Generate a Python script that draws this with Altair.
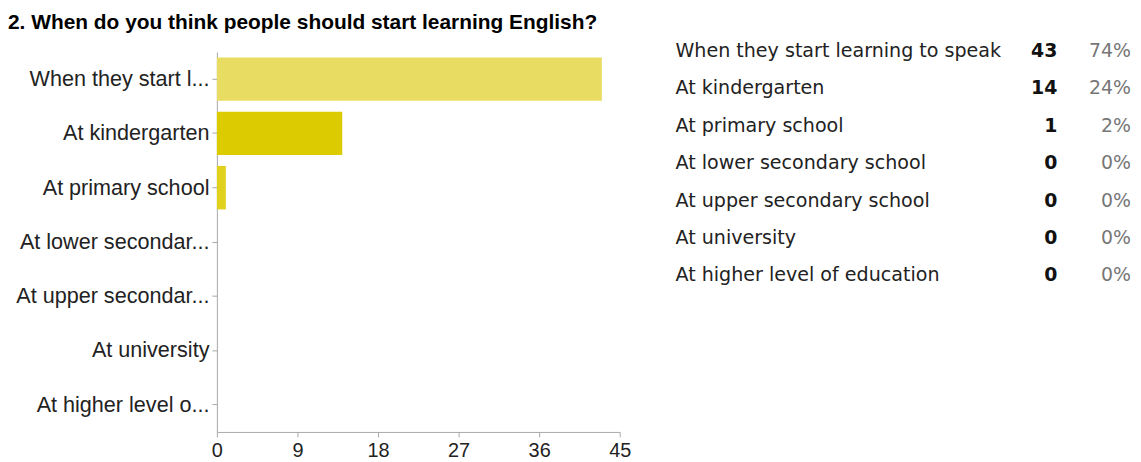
import altair as alt
import pandas as pd

title_text = "2. When do you think people should start learning English?"
answers = ["When they start learning to speak", "At kindergarten", "At primary school",
           "At lower secondary school", "At upper secondary school", "At university",
           "At higher level of education"]
axis_labels = ["When they start l...", "At kindergarten", "At primary school",
               "At lower secondar...", "At upper secondar...", "At university",
               "At higher level o..."]
counts = [43, 14, 1, 0, 0, 0, 0]
percents = ["74%", "24%", "2%", "0%", "0%", "0%", "0%"]
x_ticks = [0, 9, 18, 27, 36, 45]
bar_colors = ["#E8DC62", "#DCCB00", "#E2D11C", "#E6D640", "#D8C800", "#EADF70", "#E0CF10"]

df = pd.DataFrame({"answer": answers, "short": axis_labels, "count": counts, "pct": percents})

W, H = 405, 382

bars = alt.Chart(df).mark_bar().encode(
    x=alt.X("count:Q", scale=alt.Scale(domain=[0, 45], nice=False),
            axis=alt.Axis(values=x_ticks, title=None, grid=False, domainColor="#a8a8a8",
                          tickColor="#a8a8a8", tickSize=5, labelFont="Liberation Sans",
                          labelFontSize=20, labelColor="#222222", labelPadding=4,
                          labelFlush=False)),
    y=alt.Y("short:N", sort=axis_labels,
            scale=alt.Scale(paddingInner=0.2, paddingOuter=0.1),
            axis=alt.Axis(title=None, domainColor="#a8a8a8", tickColor="#a8a8a8", tickSize=5,
                          labelFont="Liberation Sans", labelFontSize=21.7, labelColor="#222222",
                          labelPadding=3, labelLimit=400)),
    color=alt.Color("short:N", scale=alt.Scale(domain=axis_labels, range=bar_colors), legend=None),
)

row_y = alt.Y("answer:N", sort=answers, scale=alt.Scale(type="point", range=[-1.3, 224.7], padding=0),
              axis=None)

t_label = alt.Chart(df).mark_text(align="left", baseline="middle", font="DejaVu Sans",
                                  fontSize=19.2, color="#222222").encode(
    x=alt.value(461), y=row_y, text="answer:N")
t_count = alt.Chart(df).mark_text(align="right", baseline="middle", font="DejaVu Sans",
                                  fontSize=19, fontWeight="bold", color="#111111").encode(
    x=alt.value(845), y=row_y, text="count:Q")
t_pct = alt.Chart(df).mark_text(align="right", baseline="middle", font="DejaVu Sans",
                                fontSize=19, color="#777777").encode(
    x=alt.value(919), y=row_y, text="pct:N")

chart = alt.layer(bars, t_label, t_count, t_pct).resolve_scale(y="independent").properties(
    width=W, height=H,
    title=alt.TitleParams(title_text, anchor="start", frame="group", font="Liberation Sans",
                          fontSize=21, fontWeight="bold", color="#000000", dx=-210, offset=9),
    autosize=alt.AutoSizeParams(type="none"),
    padding={"left": 210, "top": 43, "right": 516, "bottom": 28},
).configure_view(stroke=None)

chart.save("out.html", embed_options={"renderer": "svg", "actions": False})
